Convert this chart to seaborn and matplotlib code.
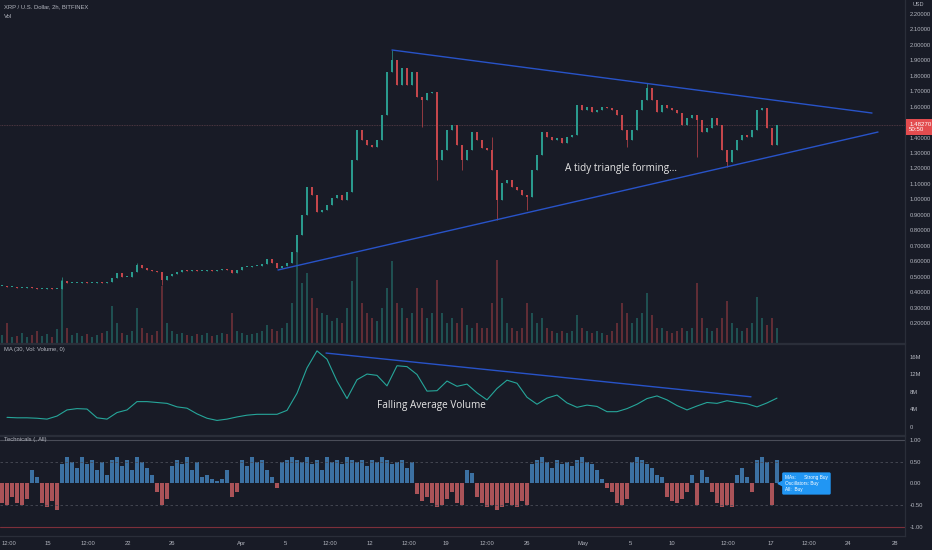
import numpy as np
import pandas as pd
import matplotlib
matplotlib.use("Agg")
import matplotlib.pyplot as plt
import seaborn as sns

# ---------------- data ----------------
closes = [0.440, 0.433, 0.433, 0.427, 0.427, 0.433, 0.427, 0.420, 0.420, 0.427,
          0.420, 0.420, 0.472, 0.459, 0.459, 0.459, 0.465, 0.459, 0.459, 0.465,
          0.459, 0.465, 0.491, 0.524, 0.498, 0.498, 0.530, 0.575, 0.556, 0.543,
          0.537, 0.530, 0.478, 0.504, 0.517, 0.530, 0.543, 0.537, 0.543, 0.537,
          0.537, 0.543, 0.537, 0.543, 0.549, 0.543, 0.524, 0.543, 0.562, 0.562,
          0.569, 0.569, 0.582, 0.614, 0.588, 0.556, 0.569, 0.588, 0.660, 0.770,
          0.899, 1.080, 1.029, 0.918, 0.931, 0.964, 1.009, 1.029, 0.996, 1.048,
          1.255, 1.449, 1.385, 1.352, 1.339, 1.385, 1.546, 1.825, 1.902, 1.740,
          1.850, 1.740, 1.825, 1.663, 1.643, 1.689, 1.695, 1.255, 1.320, 1.449,
          1.482, 1.352, 1.255, 1.320, 1.436, 1.385, 1.333, 1.320, 1.190, 0.996,
          1.106, 1.126, 1.080, 1.061, 1.029, 1.016, 1.190, 1.287, 1.436, 1.404,
          1.385, 1.397, 1.365, 1.404, 1.417, 1.611, 1.579, 1.598, 1.566, 1.579,
          1.598, 1.592, 1.579, 1.546, 1.449, 1.385, 1.449, 1.579, 1.643, 1.721,
          1.643, 1.566, 1.611, 1.592, 1.579, 1.559, 1.482, 1.527, 1.546, 1.514,
          1.436, 1.462, 1.527, 1.482, 1.320, 1.242, 1.320, 1.385, 1.417, 1.404,
          1.449, 1.579, 1.592, 1.462, 1.352, 1.4827]

spike_high_idx = [12, 27, 78, 98, 129]
spike_high_val = [0.498, 0.588, 1.967, 1.404, 1.753]
spike_low_idx = [32, 84, 87, 92, 99, 105, 125, 139, 145]
spike_low_val = [0.446, 1.469, 1.126, 1.190, 0.867, 0.931, 1.339, 1.274, 1.210]

volume = [8, 20, 6, 7, 10, 6, 8, 12, 7, 9,
          6, 14, 63, 15, 8, 10, 7, 9, 6, 8,
          10, 12, 37, 20, 10, 8, 12, 35, 15, 10,
          8, 12, 57, 20, 12, 9, 10, 8, 7, 9,
          8, 10, 7, 8, 10, 9, 30, 12, 10, 8,
          9, 10, 12, 18, 14, 12, 15, 20, 40, 93,
          60, 70, 45, 35, 30, 28, 22, 25, 20, 35,
          62, 86, 40, 30, 25, 22, 35, 55, 82, 40,
          35, 25, 30, 55, 35, 25, 30, 63, 30, 20,
          25, 20, 35, 18, 15, 20, 15, 15, 40, 83,
          45, 20, 15, 12, 15, 40, 30, 20, 25, 15,
          12, 10, 12, 10, 12, 28, 15, 12, 10, 12,
          10, 8, 12, 20, 40, 30, 20, 25, 30, 50,
          28, 15, 15, 12, 10, 12, 15, 12, 15, 60,
          25, 15, 12, 15, 25, 42, 20, 15, 12, 15,
          20, 46, 25, 18, 25, 15]

ma_idx = list(range(1, 156, 2))
ma_vals = [2.2, 2.1, 2.1, 2.0, 1.8, 2.5, 3.9, 4.2, 4.1, 2.1,
           1.8, 3.3, 3.9, 5.8, 5.8, 5.6, 5.4, 4.6, 4.3, 3.0,
           2.0, 1.5, 1.8, 2.3, 2.7, 2.9, 2.9, 2.9, 3.8, 7.7,
           13.5, 17.4, 15.5, 10.5, 6.5, 10.8, 12.1, 11.8, 9.4, 14.0,
           13.8, 12.0, 8.2, 8.3, 10.5, 9.3, 9.8, 7.8, 6.2, 8.8,
           10.7, 10.0, 6.8, 5.2, 6.6, 7.3, 5.5, 4.5, 5.0, 4.7,
           3.5, 3.5, 4.2, 5.2, 6.5, 7.1, 6.2, 4.9, 3.9, 4.8,
           5.6, 5.4, 6.0, 5.6, 5.3, 4.6, 5.5, 6.6]

tech = [-0.45, -0.5, -0.3, -0.45, -0.5, -0.35, 0.3, 0.15, -0.45, -0.55,
        -0.4, -0.6, 0.45, 0.6, 0.5, 0.35, 0.6, 0.45, 0.55, 0.3,
        0.5, 0.2, 0.55, 0.6, 0.4, 0.55, 0.3, 0.6, 0.5, 0.35,
        0.2, -0.2, -0.5, -0.35, 0.4, 0.55, 0.45, 0.6, 0.3, 0.5,
        0.15, 0.2, 0.1, 0.05, 0.1, 0.3, -0.3, -0.2, 0.55, 0.4,
        0.6, 0.5, 0.55, 0.3, 0.15, -0.1, 0.5, 0.55, 0.6, 0.55,
        0.5, 0.6, 0.45, 0.55, 0.3, 0.6, 0.5, 0.55, 0.45, 0.6,
        0.55, 0.5, 0.55, 0.4, 0.55, 0.5, 0.6, 0.55, 0.45, 0.5,
        0.55, 0.35, 0.5, -0.25, -0.4, -0.3, -0.45, -0.55, -0.5, -0.35,
        -0.2, -0.45, -0.5, 0.3, 0.25, -0.3, -0.45, -0.55, -0.5, -0.6,
        -0.55, -0.45, -0.5, -0.55, -0.4, -0.5, 0.45, 0.55, 0.6, 0.5,
        0.35, 0.55, 0.45, 0.5, 0.4, 0.55, 0.6, 0.5, 0.45, 0.3,
        0.1, -0.1, -0.2, -0.45, -0.5, -0.35, 0.5, 0.6, 0.55, 0.45,
        0.35, 0.2, 0.15, -0.3, -0.4, -0.45, -0.35, -0.2, 0.2, -0.5,
        0.3, 0.15, -0.2, -0.45, -0.55, -0.5, -0.55, 0.2, 0.35, 0.15,
        -0.2, 0.55, 0.6, 0.5, -0.5, 0.55]

tri_upper_x = [78, 174]
tri_upper_y = [1.967, 1.559]
tri_lower_x = [55.2, 175.2]
tri_lower_y = [0.543, 1.436]
ma_trend_x = [64.8, 149.8]
ma_trend_y = [16.9, 6.9]

price_ticks = [0.2, 0.3, 0.4, 0.5, 0.6, 0.7, 0.8, 0.9, 1.0, 1.1, 1.2,
               1.3, 1.4, 1.6, 1.7, 1.8, 1.9, 2.0, 2.1, 2.2]
ma_ticks = [0, 4, 8, 12, 16]
ma_tick_labels = ["0", "4M", "8M", "12M", "16M"]
tech_ticks = [-1.0, -0.5, 0.0, 0.5, 1.0]
time_tick_pos = [1.4, 9.2, 17.2, 25.2, 34, 48, 56.6, 65.6, 73.6, 81.4, 88.8,
                 97, 105, 116.2, 125.6, 134, 145.2, 153.8, 161.4, 169.2, 178.6]
time_tick_labels = ["12:00", "15", "12:00", "22", "26", "Apr", "5", "12:00", "12",
                    "12:00", "19", "12:00", "26", "May", "5", "10", "12:00", "17",
                    "12:00", "24", "28"]

# ---------------- style ----------------
BG = "#181b26"
TXT = "#b2b5be"
GRID = "#2a2e39"
UP = "#2a9a8d"
DOWN = "#c4464b"
TREND = "#2853c8"

sns.set_theme(style="dark", rc={"axes.facecolor": BG, "figure.facecolor": BG,
                                "savefig.facecolor": BG})
plt.rcParams["font.family"] = ["Liberation Sans", "DejaVu Sans"]

fig = plt.figure(figsize=(9.32, 5.5), dpi=100)
W = 905 / 932
ax_p = fig.add_axes([0, 1 - 343 / 550, W, 343 / 550])
ax_m = fig.add_axes([0, 1 - 435 / 550, W, 91 / 550])
ax_t = fig.add_axes([0, 1 - 536 / 550, W, 100 / 550])

n = len(closes)
idx = np.arange(n)
c = np.array(closes)
o = np.concatenate([[c[0]], c[:-1]])
hi = np.maximum(o, c)
lo = np.minimum(o, c)
for i, v in zip(spike_high_idx, spike_high_val):
    hi[i] = max(hi[i], v)
for i, v in zip(spike_low_idx, spike_low_val):
    lo[i] = min(lo[i], v)
up = c >= o
ccol = np.where(up, UP, DOWN)

XL = (-0.4, 180.6)

# volume (behind candles)
ax_v = ax_p.twinx()
ax_v.set_zorder(ax_p.get_zorder() - 1)
ax_p.patch.set_visible(False)
ax_v.set_facecolor(BG)
ax_v.bar(idx, volume, width=0.45, color=ccol, alpha=0.42, linewidth=0)
ax_v.set_ylim(0, 343)
ax_v.set_yticks([])
ax_v.set_xlim(*XL)
for s in ax_v.spines.values():
    s.set_visible(False)

# candles
ax_p.vlines(idx, lo, hi, colors=ccol, linewidth=0.5, zorder=3)
ax_p.bar(idx, np.maximum(np.abs(c - o), 0.004), bottom=np.minimum(o, c),
         width=0.55, color=ccol, linewidth=0, zorder=3)
ax_p.axhline(c[-1], color="#5e4049", lw=0.6, ls=(0, (1, 1)), zorder=2)
ax_p.plot(tri_upper_x, tri_upper_y, color=TREND, lw=1.0, zorder=4)
ax_p.plot(tri_lower_x, tri_lower_y, color=TREND, lw=1.0, zorder=4)
ax_p.text(123.8, 1.203, "A tidy triangle forming...", color="#e6e6e6",
          fontsize=7.2, ha="center", va="center", family=["Open Sans", "DejaVu Sans"])
ax_p.set_xlim(*XL)
ax_p.set_ylim(0.0705, 2.2906)
ax_p.yaxis.tick_right()
ax_p.set_yticks(price_ticks)
ax_p.set_yticklabels([f"{v:.5f}" for v in price_ticks])
ax_p.set_xticks([])
ax_p.annotate(f"{c[-1]:.5f}\n50:50", xy=(1.0, c[-1]), xycoords=("axes fraction", "data"),
              xytext=(3, -1.5), textcoords="offset points", ha="left", va="center",
              fontsize=4.4, color="white", linespacing=1.2, zorder=10, annotation_clip=False,
              bbox=dict(boxstyle="square,pad=0.45", fc="#e34c4f", ec="none"))

# MA panel
sns.lineplot(x=ma_idx, y=ma_vals, ax=ax_m, color="#26a69a", lw=0.8)
ax_m.plot(ma_trend_x, ma_trend_y, color=TREND, lw=1.0)
ax_m.text(85.8, 5.0, "Falling Average Volume", color="#e6e6e6", fontsize=7.2,
          ha="center", va="center", family=["Open Sans", "DejaVu Sans"])
ax_m.set_xlim(*XL)
ax_m.set_ylim(-1.83, 18.97)
ax_m.yaxis.tick_right()
ax_m.set_yticks(ma_ticks)
ax_m.set_yticklabels(ma_tick_labels)
ax_m.set_xticks([])

# Technicals panel
df_t = pd.DataFrame({"idx": idx, "tech": tech,
                     "sign": np.where(np.array(tech) >= 0, "pos", "neg")})
sns.barplot(data=df_t, x="idx", y="tech", hue="sign", native_scale=True, dodge=False,
            palette={"pos": "#2b72b3", "neg": "#b8454b"}, width=0.72, errorbar=None,
            legend=False, linewidth=0, ax=ax_t)
ax_t.axhline(1.0, color="#4a4d58", lw=0.8)
ax_t.axhline(-1.0, color="#7d2f3a", lw=0.8)
for yv in (0.5, -0.5):
    ax_t.axhline(yv, color="#4a4d58", lw=0.6, ls=(0, (3, 3)))
ax_t.plot([155.5], [0.0], marker="<", color="#2196f3", markersize=3.5, zorder=6)
ax_t.text(156.6, 0.0, "MAs:      Strong Buy\nOscillators: Buy\nAll:  Buy", color="white",
          fontsize=3.4, ha="left", va="center", linespacing=1.2, zorder=7,
          bbox=dict(boxstyle="round,pad=0.6,rounding_size=0.3", fc="#2196f3", ec="none"))
ax_t.set_xlim(*XL)
ax_t.set_ylim(-1.207, 1.092)
ax_t.yaxis.tick_right()
ax_t.set_yticks(tech_ticks)
ax_t.set_yticklabels([f"{v:.2f}" for v in tech_ticks])
ax_t.set_xticks(time_tick_pos)
ax_t.set_xticklabels(time_tick_labels)
ax_t.set_xlabel("")
ax_t.set_ylabel("")

for ax in (ax_p, ax_m, ax_t):
    if ax is not ax_p:
        ax.set_facecolor(BG)
    ax.grid(False)
    ax.tick_params(axis="both", length=0, labelsize=4.2, labelcolor=TXT, pad=3.5)
    ax.spines["left"].set_visible(False)
    for side in ("top", "bottom", "right"):
        ax.spines[side].set_visible(True)
        ax.spines[side].set_color(GRID)
        ax.spines[side].set_linewidth(0.9)
ax_p.spines["top"].set_visible(False)

fig.text(4 / 932, 1 - 7 / 550, "XRP / U.S. Dollar, 2h, BITFINEX", color=TXT,
         fontsize=4.2, ha="left", va="center")
fig.text(4 / 932, 1 - 16 / 550, "Vol", color=TXT, fontsize=4.2, ha="left", va="center")
fig.text(4 / 932, 1 - 350 / 550, "MA (30, Vol: Volume, 0)", color=TXT, fontsize=4.2,
         ha="left", va="center")
fig.text(4 / 932, 1 - 439 / 550, "Technicals (, All)", color=TXT, fontsize=4.2,
         ha="left", va="center")
fig.text(918 / 932, 1 - 5 / 550, "USD", color=TXT, fontsize=4, ha="center", va="center")

fig.savefig("out.png", dpi=100, facecolor=BG)
